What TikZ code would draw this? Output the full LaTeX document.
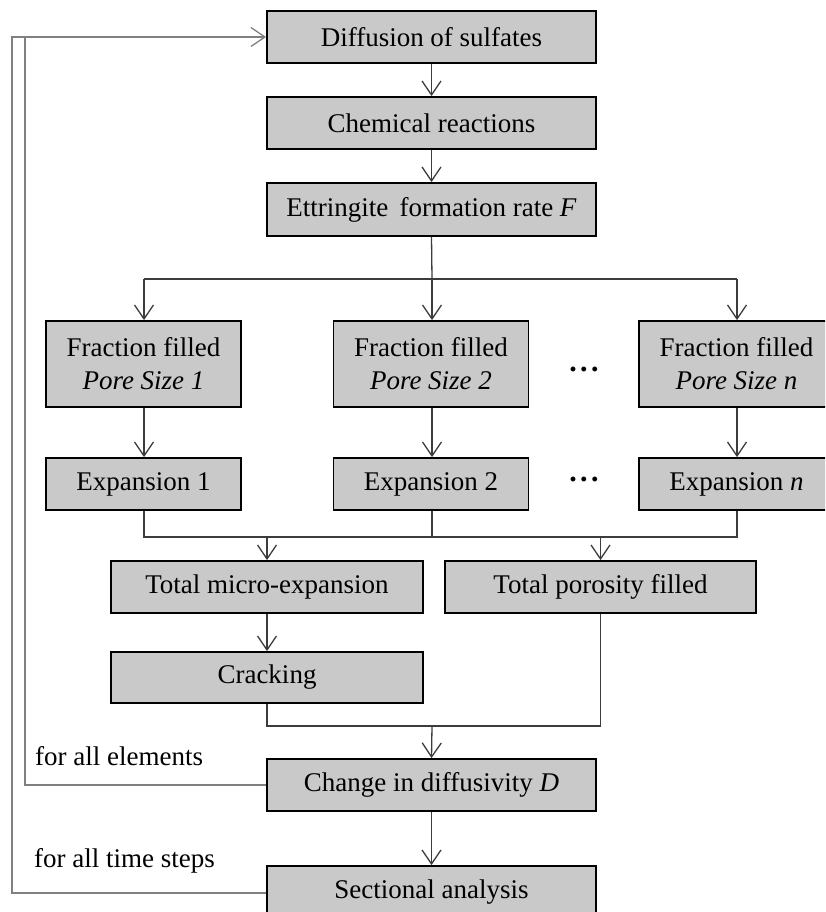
\documentclass[tikz,border=0pt]{standalone}
\usepackage{fontspec}
\setmainfont{Liberation Serif}
\usetikzlibrary{arrows.meta}
\definecolor{boxfill}{RGB}{201,201,201}
\definecolor{conn}{RGB}{60,60,60}
\definecolor{loopc}{RGB}{128,128,128}
\tikzset{
  box/.style={draw=black, line width=1.8pt, fill=boxfill, inner sep=0pt, anchor=center,
    font=\fontsize{27}{33}\selectfont, align=center},
  wbox/.style={box, minimum width=329pt, minimum height=52pt},
  fbox/.style={box, minimum width=195pt, minimum height=86pt},
  ebox/.style={box, minimum width=195pt, minimum height=52pt},
  tbox/.style={box, minimum width=312pt, minimum height=52pt},
  link/.style={draw=conn, line width=1.3pt},
  arr/.style={link, -{Straight Barb[length=14pt,width=19pt,line width=1.3pt]}},
  loopline/.style={draw=loopc, line width=1.8pt},
  lbl/.style={font=\fontsize{27}{33}\selectfont, inner sep=0pt, anchor=base west},
  dots/.style={font=\fontsize{30}{33}\bfseries, inner sep=0pt, anchor=base}
}
\newcommand{\mydots}{.\kern3.5pt.\kern3.5pt.}
\begin{document}
\begin{tikzpicture}[x=1pt,y=-1pt]
\useasboundingbox (0,0) rectangle (825,912);
\clip (0,0) rectangle (825,912);

% nodes
\node[wbox] (diff) at (431.5,37) {Diffusion of sulfates};
\node[wbox] (chem) at (431.5,123) {Chemical reactions};
\node[wbox, minimum height=53pt] (ett) at (431.5,209.5) {Ettringite\, formation rate \textit{F}};

\node[fbox] (f1) at (143.5,364) {Fraction filled\\\textit{Pore Size 1}};
\node[fbox] (f2) at (431,364) {Fraction filled\\\textit{Pore Size 2}};
\node[fbox] (fn) at (736.5,364) {Fraction filled\\\textit{Pore Size n}};
\node[dots] (d1) at (584,371.5) {\mydots};

\node[ebox] (e1) at (143.5,484) {Expansion 1};
\node[ebox] (e2) at (431,484) {Expansion 2};
\node[ebox] (en) at (736.5,484) {Expansion \textit{n}};
\node[dots] (d2) at (584,481.5) {\mydots};

\node[tbox] (tme) at (267,587) {Total micro-expansion};
\node[tbox, minimum width=311pt] (tpf) at (600.5,587) {Total porosity filled};
\node[tbox, minimum height=51pt] (crk) at (267,677.5) {Cracking};

\node[wbox] (chg) at (431.5,785) {Change in diffusivity \textit{D}};
\node[wbox] (sec) at (431.5,892) {Sectional analysis};

\node[lbl] (l1) at (35,765) {for all elements};
\node[lbl] (l2) at (34,867) {for all time steps};

% coordinates
\coordinate (s1) at (432,279);
\coordinate (s1l) at (144,279);
\coordinate (s1r) at (737,279);
\coordinate (m1) at (432,537);
\coordinate (m1l) at (144,537);
\coordinate (m1r) at (737,537);
\coordinate (m2) at (432,726);
\coordinate (ia) at (25,785);
\coordinate (ib) at (25,37);
\coordinate (oa) at (12,893);
\coordinate (ob) at (12,37);

% main chain
\draw[arr] (diff.south) -- (chem.north);
\draw[arr] (chem.south) -- (ett.north);

% split
\draw[link] (ett.south) -- (s1);
\draw[link] (s1l) -- (s1r);
\draw[arr] (s1l) -- (s1l |- f1.north);
\draw[arr] (s1) -- (s1 |- f2.north);
\draw[arr] (s1r) -- (s1r |- fn.north);

\draw[arr] (f1.south -| s1l) -- (e1.north -| s1l);
\draw[arr] (f2.south -| s1) -- (e2.north -| s1);
\draw[arr] (fn.south -| s1r) -- (en.north -| s1r);

% merge
\draw[link] (e1.south -| m1l) -- (m1l) -- (m1r) -- (en.south -| m1r);
\draw[link] (e2.south -| m1) -- (m1);
\draw[arr] (tme.north |- m1) -- (tme.north);
\draw[arr] (tpf.north |- m1) -- (tpf.north);

\draw[arr] (tme.south) -- (crk.north);
\draw[link] (crk.south) -- (crk.south |- m2) -- (tpf.south |- m2) -- (tpf.south);
\draw[arr] (m2) -- (chg.north);
\draw[arr] (chg.south) -- (sec.north);

% loops
\draw[loopline] (chg.west) -- (ia) -- (ib);
\draw[loopline] (sec.west |- oa) -- (oa) -- (ob) -- (ib);
\draw[arr, draw=loopc] (ib) -- (diff.west);
\end{tikzpicture}
\end{document}
